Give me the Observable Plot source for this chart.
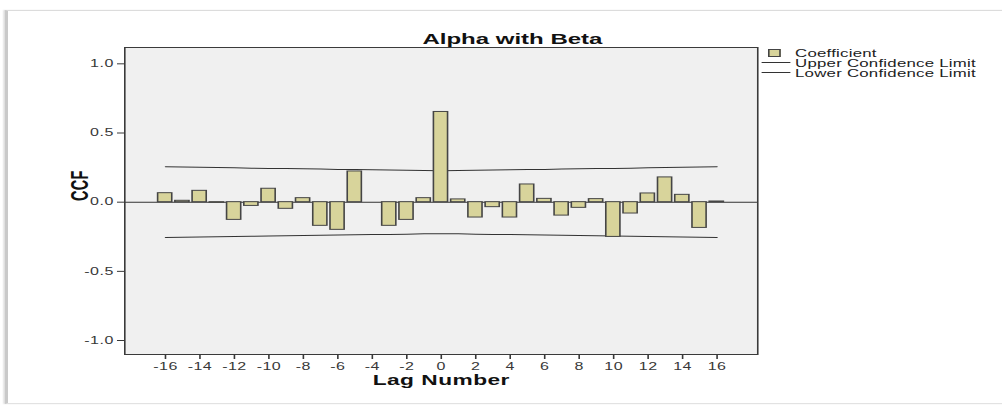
<!DOCTYPE html>
<html>
<head>
<meta charset="utf-8">
<script src="https://cdn.jsdelivr.net/npm/d3@7"></script>
<script src="https://cdn.jsdelivr.net/npm/@observablehq/plot@0.6"></script>
<style>
  html, body { margin: 0; padding: 0; background: #fff; }
  #page { position: relative; width: 1002px; height: 406px; overflow: hidden; background: #fff; }
  #inner { position: absolute; left: 0; top: 0; width: 626.25px; height: 406px; transform: scaleX(1.6); transform-origin: 0 0; font-family: "Liberation Sans", Arial, sans-serif; }
  #border { position: absolute; left: 3.2px; top: 10px; width: 700px; height: 392px; border-top: 1px solid #dcdcdc; border-left: 2.5px solid #c9c9c9; border-bottom: 1px solid #e2e2e2; box-shadow: -1px 0 1px #e6e6e6; }
  #chart { position: absolute; left: 0; top: 0; }
  #title { position: absolute; left: 220.3px; top: 31.3px; width: 200px; text-align: center; font-weight: bold; font-size: 15px; line-height: 15px; color: #111; white-space: nowrap; }
  .lg-text { position: absolute; left: 496.9px; font-size: 10.5px; line-height: 10.5px; color: #222; white-space: nowrap; letter-spacing: 0.15px; }
  .lg-line { position: absolute; left: 476.3px; width: 17.5px; height: 1px; background: #333; }
  #lg-swatch { position: absolute; left: 480px; top: 48.5px; width: 7.5px; height: 8px; box-sizing: border-box; background: #d8d49b; border: 1px solid #444; }
</style>
</head>
<body>
<div id="page">
  <div id="inner">
    <div id="border"></div>
    <div id="chart"></div>
    <div id="title">Alpha with Beta</div>
    <div id="legend">
      <div id="lg-swatch"></div>
      <div class="lg-text" style="top:47.8px">Coefficient</div>
      <div class="lg-line" style="top:62.2px"></div>
      <div class="lg-text" style="top:57.8px">Upper Confidence Limit</div>
      <div class="lg-line" style="top:72.2px"></div>
      <div class="lg-text" style="top:67.8px">Lower Confidence Limit</div>
    </div>
  </div>
</div>
<script>
const lags = [-16, -15, -14, -13, -12, -11, -10, -9, -8, -7, -6, -5, -4, -3, -2, -1, 0,
              1, 2, 3, 4, 5, 6, 7, 8, 9, 10, 11, 12, 13, 14, 15, 16];
const ccf = [0.065, 0.01, 0.082, -0.005, -0.128, -0.027, 0.097, -0.048, 0.029, -0.171, -0.2, 0.222, 0, -0.171, -0.128, 0.029,
             0.652,
             0.02, -0.111, -0.036, -0.111, 0.128, 0.024, -0.097, -0.041, 0.022, -0.251, -0.082, 0.063, 0.179, 0.053, -0.186, 0.005];
const upperLimit = [0.256, 0.254, 0.252, 0.250, 0.248, 0.246, 0.244, 0.243, 0.241, 0.239, 0.237, 0.236, 0.234, 0.233, 0.231, 0.229,
                    0.228,
                    0.229, 0.231, 0.233, 0.234, 0.236, 0.237, 0.239, 0.241, 0.243, 0.244, 0.246, 0.248, 0.250, 0.252, 0.254, 0.256];
const lowerLimit = [-0.256, -0.254, -0.252, -0.250, -0.248, -0.246, -0.244, -0.243, -0.241, -0.239, -0.237, -0.236, -0.234, -0.233, -0.231, -0.229,
                    -0.228,
                    -0.229, -0.231, -0.233, -0.234, -0.236, -0.237, -0.239, -0.241, -0.243, -0.244, -0.246, -0.248, -0.250, -0.252, -0.254, -0.256];
const xTicks = [-16, -14, -12, -10, -8, -6, -4, -2, 0, 2, 4, 6, 8, 10, 12, 14, 16];
const yTicks = [-1.0, -0.5, 0.0, 0.5, 1.0];
const yLabel = "CCF";
const xLabel = "Lag Number";

const data = lags.map((lag, i) => ({lag, ccf: ccf[i], upper: upperLimit[i], lower: lowerLimit[i]}));
const halfBar = 0.41;

const chart = Plot.plot({
  width: 626.25,
  height: 406,
  marginLeft: 77.5,
  marginRight: 153.15,
  marginTop: 47,
  marginBottom: 52,
  style: {background: "transparent", fontFamily: "'Liberation Sans', Arial, sans-serif", fontSize: "10px", color: "#383838", overflow: "visible", letterSpacing: "0.3px"},
  x: {domain: [-18.36, 18.36], ticks: xTicks, tickFormat: d => String(d), tickSize: 5, tickPadding: 3, label: null},
  y: {domain: [-1.101, 1.118], ticks: yTicks, tickFormat: d => d.toFixed(1), tickSize: 4.4, tickPadding: 2.5, label: null},
  marks: [
    Plot.frame({fill: "#f0f0f0", stroke: "none"}),
    Plot.ruleY([0], {stroke: "#333", strokeWidth: 1}),
    Plot.line(data, {x: "lag", y: "upper", stroke: "#333", strokeWidth: 1}),
    Plot.line(data, {x: "lag", y: "lower", stroke: "#333", strokeWidth: 1}),
    Plot.rectY(data, {x1: d => d.lag - halfBar, x2: d => d.lag + halfBar, y1: 0, y2: "ccf", fill: "#d8d49b", stroke: "#454545", strokeWidth: 1}),
    Plot.frame({stroke: "#3a3a3a", fill: "none"}),
    Plot.text([yLabel], {text: d => d, frameAnchor: "left", dx: -27.5, rotate: -90, fontSize: 14.5, fontWeight: "bold", fill: "#111"}),
    Plot.text([xLabel], {text: d => d, frameAnchor: "bottom", dy: 30.5, fontSize: 14.2, fontWeight: "bold", fill: "#111"})
  ]
});
document.getElementById("chart").appendChild(chart);
</script>
</body>
</html>
